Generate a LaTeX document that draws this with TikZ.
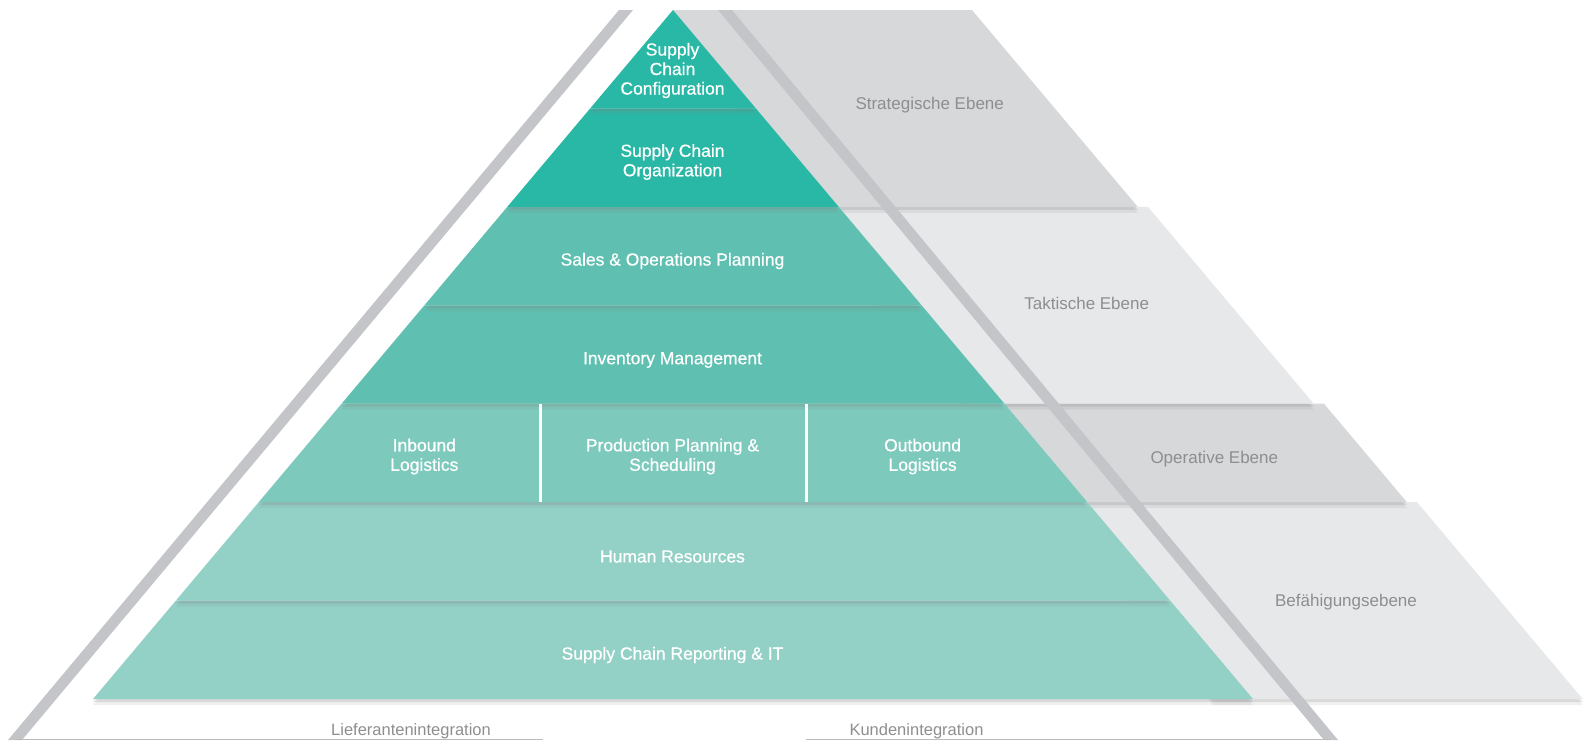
\documentclass[tikz,border=0pt]{standalone}
\usepackage{fontspec}
\setmainfont{Liberation Sans}
\newfontfamily\tierfont[FakeBold=0.6]{Liberation Sans}
\usetikzlibrary{shadows}

\definecolor{tealA}{HTML}{29B8A6}
\definecolor{tealB}{HTML}{5FC0B1}
\definecolor{tealC}{HTML}{7DCABD}
\definecolor{tealD}{HTML}{93D1C7}
\definecolor{bandDark}{HTML}{D7D8DA}
\definecolor{bandLight}{HTML}{E7E8EA}
\definecolor{barGray}{HTML}{C4C5C9}
\definecolor{labelGray}{HTML}{8E8E90}

\tikzset{
  tier/.style={drop shadow={shadow xshift=0pt,shadow yshift=-6pt,opacity=.12},
               drop shadow={shadow xshift=0pt,shadow yshift=-3pt,opacity=.2}},
  tiertext/.style={text=white, align=center, font=\tierfont\fontsize{17.5}{19.5}\selectfont},
  bandtext/.style={text=labelGray, font=\fontsize{17}{19}\selectfont},
  sidetext/.style={text=labelGray, anchor=base, font=\fontsize{16.5}{18}\selectfont},
}

\begin{document}
\begin{tikzpicture}[x=1pt,y=-1pt]
    \useasboundingbox (0,0) rectangle (1588,740);
    % levels behind the pyramid
    \foreach \ytop/\ybot/\rx/\col in {502.1/699/1417/bandLight, 403.7/502.1/1324/bandDark,
                                      206.9/403.7/1148/bandLight, 10/206.9/972/bandDark}
        \fill[fill=\col, tier] ({max(673,633+0.8418*(\ytop-10))},\ytop) -- (\rx,\ytop)
            -- ({\rx+0.8418*(\ybot-\ytop)},\ybot) -- ({633+0.8418*(\ybot-10)},\ybot) -- cycle;
    % integration bars
    \fill[barGray] (619,10) -- (633,10) -- (22,740) -- (8,740) -- cycle;
    \fill[barGray] (718,10) -- (732,10) -- (1338,740) -- (1324,740) -- cycle;
    \draw[labelGray!60, line width=1pt] (15,739) -- (543,739);
    \draw[labelGray!60, line width=1pt] (806,739) -- (1330,739);
    % pyramid, bottom tier first
    \foreach \i/\col in {6/tealD,5/tealD,4/tealC,3/tealB,2/tealB,1/tealA,0/tealA} {
        \pgfmathsetmacro\ytop{10+98.43*\i}
        \pgfmathsetmacro\ybot{10+98.43*(\i+1)}
        \pgfmathsetmacro\wtop{0.8418*(\ytop-10)}
        \pgfmathsetmacro\wbot{0.8418*(\ybot-10)}
        \fill[fill=\col, tier] ({673-\wtop},\ytop) -- ({673+\wtop},\ytop)
            -- ({673+\wbot},\ybot) -- ({673-\wbot},\ybot) -- cycle;
    }
    \draw[white, line width=3pt] (540,403.7) -- (540,502.1);
    \draw[white, line width=3pt] (806,403.7) -- (806,502.1);
    % tier labels
    \node[tiertext] (conf) at (672.5,70.5) {Supply\\Chain\\Configuration};
    \node[tiertext] (org) at (672.5,162) {Supply Chain\\Organization};
    \node[tiertext] (sop) at (672.5,261) {Sales \& Operations Planning};
    \node[tiertext] (inv) at (672.5,360) {Inventory Management};
    \node[tiertext] (inb) at (424.3,456.5) {Inbound\\Logistics};
    \node[tiertext] (pps) at (672.5,456.5) {Production Planning \&\\Scheduling};
    \node[tiertext] (outb) at (922.6,456.5) {Outbound\\Logistics};
    \node[tiertext] (hr) at (672.5,556.5) {Human Resources};
    \node[tiertext] (rep) at (672.5,655) {Supply Chain Reporting \& IT};
    % level labels
    \node[bandtext] (strat) at (929.7,105) {Strategische Ebene};
    \node[bandtext] (takt) at (1086.7,303.5) {Taktische Ebene};
    \node[bandtext] (oper) at (1214.3,459.5) {Operative Ebene};
    \node[bandtext] (befae) at (1346,602) {Befähigungsebene};
    % integration labels
    \node[sidetext] (lief) at (411,735) {Lieferantenintegration};
    \node[sidetext] (kund) at (916.5,735) {Kundenintegration};
\end{tikzpicture}
\end{document}
